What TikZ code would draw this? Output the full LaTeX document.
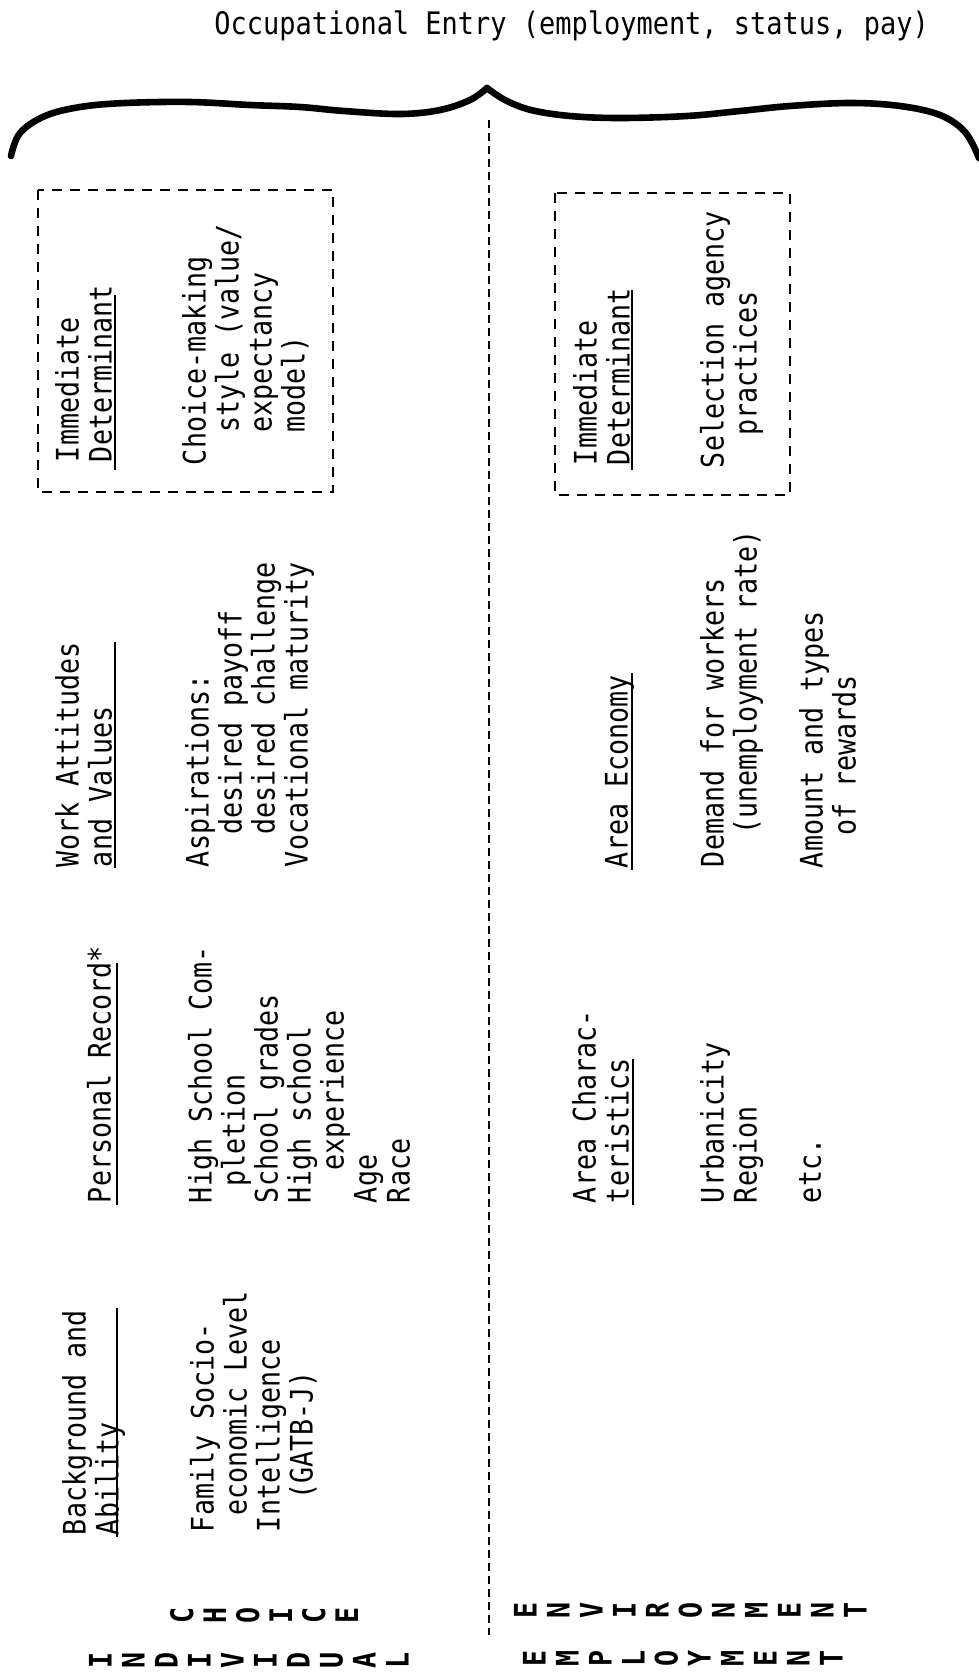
\documentclass[tikz,border=0pt]{standalone}
\usepackage{fontspec}
\newfontfamily\tw[FakeStretch=0.86]{DejaVu Sans Mono}
\newfontfamily\twt[FakeStretch=0.87]{DejaVu Sans Mono}
\begin{document}
\begin{tikzpicture}[x=0.5pt,y=-0.5pt,
  txt/.style={font=\fontsize{15.5pt}{16.5pt}\selectfont\tw, inner sep=0pt, outer sep=0pt, align=left, rotate=90, anchor=north west},
  lbl/.style={font=\fontsize{15.5pt}{16.5pt}\selectfont\tw\bfseries, inner sep=0pt, outer sep=0pt, align=center, rotate=90, anchor=north},
  dbox/.style={draw, line width=1pt, dash pattern=on 5pt off 4pt},
  uline/.style={line width=0.8pt},
  divider/.style={line width=1.2pt, dash pattern=on 4pt off 2.5pt},
  brace/.style={line width=3.3pt, line cap=round, line join=round}]
\useasboundingbox (0,0) rectangle (979,1677);
\fill[white] (0,0) rectangle (979,1677);

% title
\node[font=\fontsize{15.5pt}{16.5pt}\selectfont\twt, inner sep=0pt, anchor=base west] (title) at (214,34) {Occupational Entry (employment, status, pay)};

% brace
\draw[brace] plot[smooth, tension=0.6] coordinates {(11,156) (20,133) (45,116) (80,107) (125,103) (190,102) (250,105) (300,107) (344,111) (400,114) (440,110) (470,100) (487,88)};
\draw[brace] plot[smooth, tension=0.6] coordinates {(487,88) (505,100) (531,110) (570,116) (620,118) (687,116) (740,111) (790,106) (850,103) (900,106) (940,115) (965,132) (979,158)};

% divider
\coordinate (divtop) at (489,120);
\coordinate (divbot) at (489,1635);
\draw[divider] (divtop) -- (divbot);

% dashed boxes
\draw[dbox] (38,190) rectangle (333,492);
\draw[dbox] (555,193) rectangle (790,495);

% left half (individual)
\node[txt] (hA) at (55,462) {Immediate\\Determinant};
\node[txt] (iA) at (182,465) {Choice-making\\\phantom{xx}style (value/\\\phantom{xx}expectancy\\\phantom{xx}model)};
\node[txt] (hB) at (55,867) {Work Attitudes\\and Values};
\node[txt] (iB) at (185,867) {Aspirations:\\\phantom{xx}desired payoff\\\phantom{xx}desired challenge\\Vocational maturity};
\node[txt] (hC) at (87,1203) {Personal Record*};
\node[txt] (iC) at (188,1203) {High School Com-\\\phantom{x}pletion\\School grades\\High school\\\phantom{xx}experience\\Age\\Race};
\node[txt] (hD) at (62,1535) {Background and\\Ability};
\node[txt] (iD) at (190,1532) {Family Socio-\\\phantom{x}economic Level\\Intelligence\\\phantom{xx}(GATB-J)};

% right half (environment)
\node[txt] (hE) at (573,465) {Immediate\\Determinant};
\node[txt] (iE) at (700,468) {Selection agency\\\phantom{xx}practices};
\node[txt] (hF) at (605,868) {Area Economy};
\node[txt] (iF) at (700,867) {Demand for workers\\\phantom{xx}(unemployment rate)};
\node[txt] (iF2) at (799,868) {Amount and types\\\phantom{xx}of rewards};
\node[txt] (hG) at (572,1203) {Area Charac-\\teristics};
\node[txt] (iG) at (700,1203) {Urbanicity\\Region};
\node[txt] (iG2) at (799,1203) {etc.};

% underlines
\draw[uline] (115,470) -- (115,295);
\draw[uline] (115,868) -- (115,642);
\draw[uline] (117,1205) -- (117,963);
\draw[uline] (117,1537) -- (117,1308);
\draw[uline] (632,470) -- (632,290);
\draw[uline] (632,870) -- (632,673);
\draw[uline] (633,1205) -- (633,1059);

% side labels
\node[lbl] (choice) at (170,1615) {C\\H\\O\\I\\C\\E};
\node[lbl] (indiv) at (89,1660) {I\\N\\D\\I\\V\\I\\D\\U\\A\\L};
\node[lbl] (envir) at (514,1610) {E\\N\\V\\I\\R\\O\\N\\M\\E\\N\\T};
\node[lbl] (emplo) at (523,1658) {E\\M\\P\\L\\O\\Y\\M\\E\\N\\T};
\end{tikzpicture}
\end{document}
